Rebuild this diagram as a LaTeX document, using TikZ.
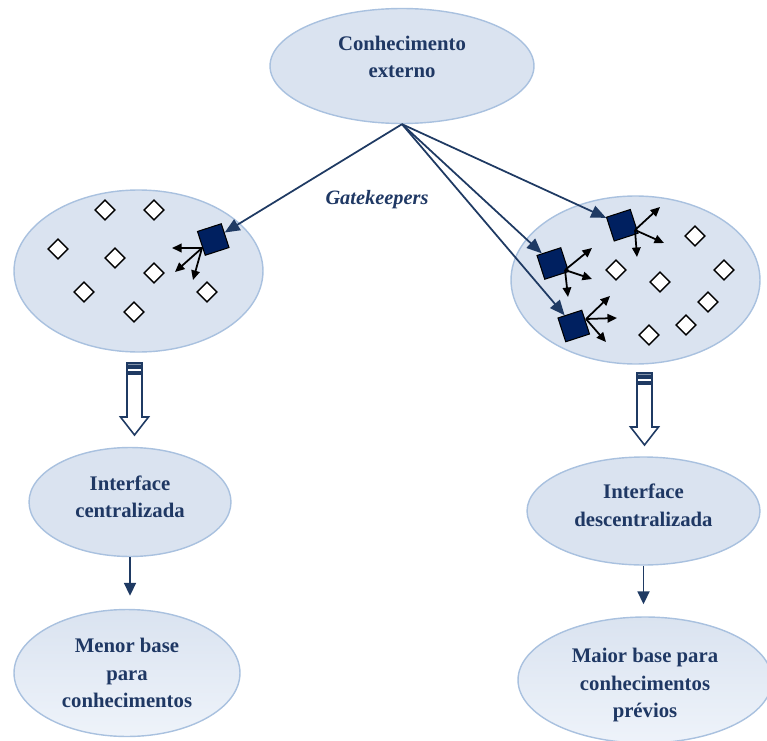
\documentclass[tikz,border=0pt]{standalone}
\usepackage{fontspec}
\setmainfont{Liberation Serif}
\usepackage{xcolor}
\usetikzlibrary{positioning,arrows.meta,shapes.geometric}
\definecolor{NavyText}{HTML}{1F3864}
\definecolor{NavyLine}{HTML}{1F3A63}
\definecolor{NavyBox}{HTML}{002060}
\definecolor{PaleBlue}{HTML}{DAE3F0}
\definecolor{PaleEdge}{HTML}{A9C1DF}
\definecolor{PaleLight}{HTML}{EEF3FA}

\begin{document}
\begin{tikzpicture}[x=0.02cm, y=-0.02cm,
      bl/.style={ellipse, draw=PaleEdge, fill=PaleBlue, line width=0.8pt,
                 text=NavyText, font=\fontsize{11.8}{15.6}\selectfont\bfseries,
                 align=center, inner sep=0pt},
      sh/.style={bl, top color=PaleBlue, bottom color=PaleLight},
      wt/.style={draw=black, fill=white, line width=0.8pt,
                 inner sep=0pt, minimum size=0.28cm, rotate=45},
      dk/.style={draw=black, fill=NavyBox, line width=0.6pt,
                 inner sep=0pt, minimum size=0.5cm, rotate=18},
      ar/.style={-{Triangle[length=0.3cm, width=0.25cm]}, NavyLine, line width=1pt},
      sm/.style={-{Triangle[length=0.19cm, width=0.17cm]}, black, line width=1pt},
      dn/.style={-{Triangle[length=0.26cm, width=0.24cm]}, NavyLine, line width=1pt},
      blockdown/.pic={
        \filldraw[draw=NavyLine, fill=NavyLine!55, line width=0.6pt] (-7.5,0) rectangle (7.5,3);
        \draw[NavyLine, fill=white, line width=0.6pt] (-7.5,5) rectangle (7.5,9);
        \draw[NavyLine, fill=white, line width=0.9pt, line join=miter]
          (-7.5,11) -- (-7.5,54) -- (-14,54) -- (0,72) -- (14,54) -- (7.5,54) -- (7.5,11) -- cycle;
      },
    ]
      \useasboundingbox (0,0) rectangle (767,740);
      % top and the two clouds
      \node[bl, minimum width=5.28cm, minimum height=2.3cm, text depth=0.36cm] (ext) at (402,66) {Conhecimento\\externo};
      \node[bl, minimum width=4.98cm, minimum height=3.24cm] (lc) at (138.5,271) {};
      \node[bl, minimum width=4.98cm, minimum height=3.36cm] (rc) at (635.5,280) {};
      \node[text=NavyText, font=\fontsize{11.6}{14}\selectfont\bfseries\itshape] (gk) at (377,200) {Gatekeepers};

      % left cloud
      \node[wt] (d1) at (105,210) {}; \node[wt] (d2) at (154,210) {};
      \node[wt] (d3) at (58,249) {};  \node[wt] (d4) at (115,258) {};
      \node[wt] (d5) at (154,273) {}; \node[wt] (d6) at (84,292) {};
      \node[wt] (d7) at (207,292) {}; \node[wt] (d8) at (134,312) {};
      \node[dk] (g0) at (213.25,239.5) {};
      \coordinate (o0) at (202,248);
      \coordinate (a01) at (172,248); \coordinate (a02) at (175,272); \coordinate (a03) at (193,280);
      \draw[sm] (o0)--(a01); \draw[sm] (o0)--(a02); \draw[sm] (o0)--(a03);

      % right cloud
      \node[wt] (e1) at (695,236) {}; \node[wt] (e2) at (616,270) {};
      \node[wt] (e3) at (660,282) {}; \node[wt] (e4) at (724,270) {};
      \node[wt] (e5) at (708,302) {}; \node[wt] (e6) at (686,325) {};
      \node[wt] (e7) at (649,335) {};
      \node[dk] (g1) at (622.25,225.25) {};
      \node[dk] (g2) at (552.75,263.5) {};
      \node[dk] (g3) at (573.75,326) {};
      \coordinate (o1) at (635,230);
      \coordinate (a11) at (660,207); \coordinate (a12) at (664,243); \coordinate (a13) at (637,257);
      \draw[sm] (o1)--(a11); \draw[sm] (o1)--(a12); \draw[sm] (o1)--(a13);
      \coordinate (o2) at (565,270);
      \coordinate (a21) at (592,248); \coordinate (a22) at (592,279); \coordinate (a23) at (568,297);
      \draw[sm] (o2)--(a21); \draw[sm] (o2)--(a22); \draw[sm] (o2)--(a23);
      \coordinate (o3) at (586,319);
      \coordinate (a31) at (610,296); \coordinate (a32) at (617,318); \coordinate (a33) at (606,342);
      \draw[sm] (o3)--(a31); \draw[sm] (o3)--(a32); \draw[sm] (o3)--(a33);

      % gatekeeper links
      \draw[ar] (ext.south)--(g0); \draw[ar] (ext.south)--(g1);
      \draw[ar] (ext.south)--(g2); \draw[ar] (ext.south)--(g3);

      % hollow arrows
      \pic at (134.5,363) {blockdown};
      \pic at (644.5,373) {blockdown};

      % interfaces and bases
      \node[bl, minimum width=4.04cm, minimum height=2.18cm, text depth=0.22cm] (ic) at (130,502) {Interface\\centralizada};
      \node[bl, minimum width=4.66cm, minimum height=2.16cm, text depth=0.24cm] (id) at (643.5,511) {Interface\\descentralizada};
      \node[sh, minimum width=4.52cm, minimum height=2.54cm] (mb) at (127,673) {Menor base\\para\\conhecimentos};
      \node[sh, minimum width=5.08cm, minimum height=2.52cm, text height=1.6cm] (xb) at (645,680) {Maior base para\\conhecimentos\\prévios};
      \draw[dn, shorten >=0.26cm] (ic.south)--(ic.south |- mb.north);
      \draw[dn, shorten >=0.24cm] (id.south)--(id.south |- xb.north);
    \end{tikzpicture}
\end{document}
